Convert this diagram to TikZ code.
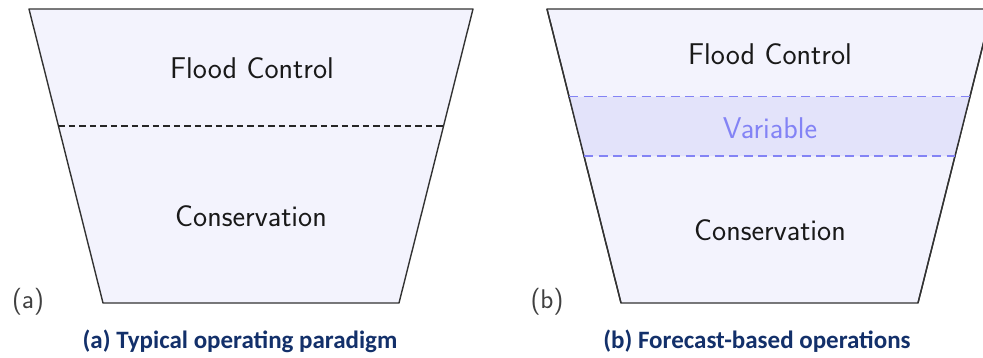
\documentclass[tikz,border=0pt]{standalone}
\usepackage{fontspec}
\newfontfamily\capfont{Carlito}
\usetikzlibrary{calc}
\definecolor{basin}{HTML}{F3F3FD}
\definecolor{band}{HTML}{E3E3FA}
\definecolor{bandline}{HTML}{8383F5}
\definecolor{rim}{HTML}{333333}
\definecolor{capblue}{HTML}{13306A}

\begin{document}
\begin{tikzpicture}[x=1pt, y=-1pt, line join=round,
  zone/.style={font=\sffamily\fontsize{30}{30}\selectfont, text=black!90},
  tag/.style={font=\sffamily\fontsize{27}{27}\selectfont, text=black!75},
  caption/.style={font=\capfont\bfseries\fontsize{25}{25}\selectfont, text=capblue}]
  \useasboundingbox (0,0) rectangle (983,357);
  \clip (0,0) rectangle (983,357);
  % corners of both basins
  \coordinate (a1) at (29,9);   \coordinate (a2) at (473,9);
  \coordinate (a3) at (399,303); \coordinate (a4) at (103,303);
  \coordinate (b1) at (547,9);  \coordinate (b2) at (992,9);
  \coordinate (b3) at (918,303); \coordinate (b4) at (621,303);

  % (a) typical operation
  \filldraw[fill=basin, draw=rim, line width=1.4pt] (a1) -- (a2) -- (a3) -- (a4) -- cycle;
  \draw[black!85, line width=1.3pt, dash pattern=on 6.5pt off 4pt]
    ($(a1)!0.398!(a4)$) -- ($(a2)!0.398!(a3)$);
  \node[zone] (fca) at (252,68) {Flood Control};
  \node[zone] (cva) at (251,216) {Conservation};
  \node[tag] (la) at (28,302) {(a)};
  \node[caption] (capa) at (240,341) {(a) Typical operating paradigm};

  % (b) forecast-based operation
  \filldraw[fill=basin, draw=rim, line width=1.4pt] (b1) -- (b2) -- (b3) -- (b4) -- cycle;
  \fill[band] ($(b1)!0.299!(b4)$) -- ($(b2)!0.299!(b3)$)
    -- ($(b2)!0.5!(b3)$) -- ($(b1)!0.5!(b4)$) -- cycle;
  \draw[rim, line width=1.4pt] (b1) -- (b4) (b2) -- (b3);
  \draw[bandline, line width=1.1pt, dash pattern=on 9pt off 5.5pt]
    ($(b1)!0.299!(b4)$) -- ($(b2)!0.299!(b3)$)
    ($(b1)!0.5!(b4)$) -- ($(b2)!0.5!(b3)$);
  \node[zone] (fcb) at (770,54) {Flood Control};
  \node[zone, text=bandline] (vb) at (770,128) {Variable};
  \node[zone] (cvb) at (770,230) {Conservation};
  \node[tag] (lb) at (547,302) {(b)};
  \node[caption] (capb) at (757,341) {(b) Forecast-based operations};
\end{tikzpicture}
\end{document}
